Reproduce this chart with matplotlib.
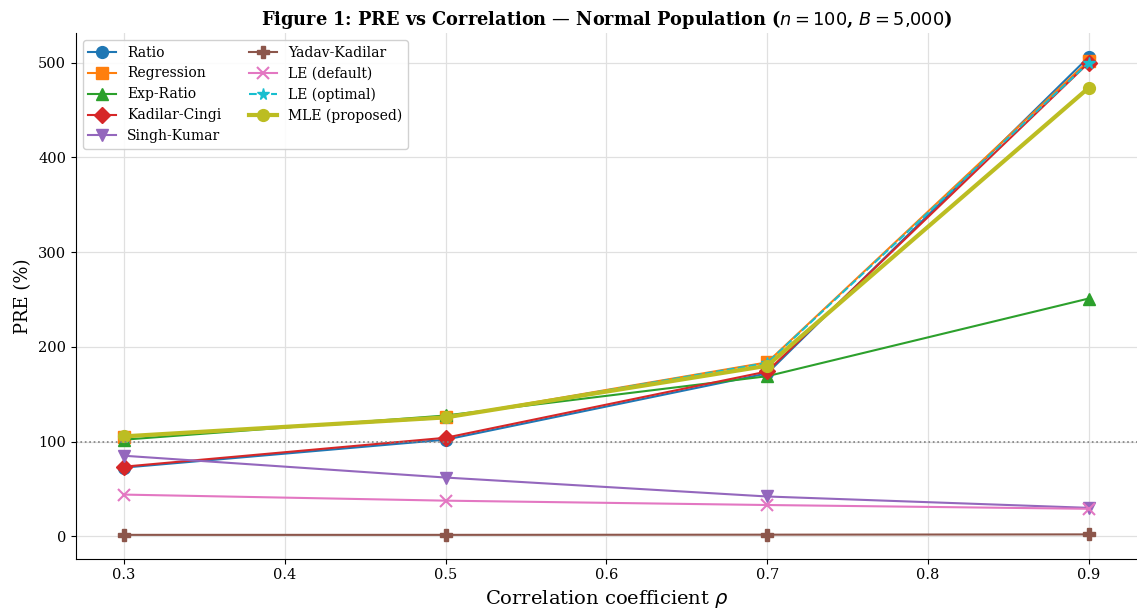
import matplotlib
matplotlib.use("Agg")
import matplotlib.pyplot as plt

rho = [0.3, 0.5, 0.7, 0.9]
ratio = [72.5, 102, 172, 506]
regression = [105, 125.4, 183.6, 502]
exp_ratio = [102, 127.5, 169, 251]
kadilar_cingi = [73.5, 104, 174, 500]
singh_kumar = [85, 62, 42, 30]
yadav_kadilar = [1.5, 1.5, 1.7, 2.0]
le_default = [44, 37.6, 33, 29]
le_optimal = [105, 125, 183, 500]
mle = [105.5, 125.5, 180, 473.5]

plt.rcParams['font.family'] = ['DejaVu Serif']
plt.rcParams['mathtext.fontset'] = 'dejavusans'

fig = plt.figure(figsize=(11.37, 6.12), dpi=100)
ax = fig.add_axes([0.0668, 0.087, 0.9332, 0.859])

series = [
    ("Ratio", ratio, "#1f77b4", "o", "-", 1.5),
    ("Regression", regression, "#ff7f0e", "s", "-", 1.5),
    ("Exp-Ratio", exp_ratio, "#2ca02c", "^", "-", 1.5),
    ("Kadilar-Cingi", kadilar_cingi, "#d62728", "D", "-", 1.5),
    ("Singh-Kumar", singh_kumar, "#9467bd", "v", "-", 1.5),
    ("Yadav-Kadilar", yadav_kadilar, "#8c564b", "P", "-", 1.5),
    ("LE (default)", le_default, "#e377c2", "x", "-", 1.5),
    ("LE (optimal)", le_optimal, "#17becf", "*", "--", 1.5),
    ("MLE (proposed)", mle, "#bcbd22", "o", "-", 3.0),
]
for label, vals, c, m, ls, lw in series:
    ms = 8.5
    mew = 1.5 if m == "x" else 1
    ax.plot(rho, vals, color=c, marker=m, linestyle=ls, linewidth=lw,
            markersize=ms, markeredgewidth=mew, label=label)

ax.axhline(100, color="gray", linestyle=":", linewidth=1.2)
ax.grid(True, color="#e0e0e0", linewidth=0.9)
ax.set_axisbelow(True)
ax.spines['top'].set_visible(False)
ax.spines['right'].set_visible(False)

ax.set_xlabel(r"Correlation coefficient $\rho$", fontsize=14)
ax.set_ylabel("PRE (%)", fontsize=13)
ax.set_title(r"Figure 1: PRE vs Correlation — Normal Population ($n=100$, $B=5{,}000$)",
             fontsize=12.8, fontweight="bold")
ax.tick_params(labelsize=10.5)
ax.legend(loc="upper left", ncol=2, fontsize=10, framealpha=0.9)

fig.savefig("out.png", dpi=100)
